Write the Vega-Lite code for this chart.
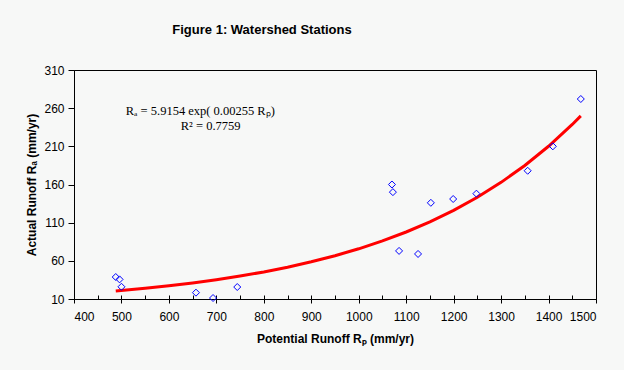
{
  "$schema": "https://vega.github.io/schema/vega-lite/v6.json",
  "width": 522,
  "height": 229,
  "autosize": "none",
  "padding": {"left": 74, "top": 70, "right": 28, "bottom": 71},
  "background": "#f7f8f7",
  "title": {
    "text": "Figure 1: Watershed Stations",
    "font": "Liberation Sans",
    "fontSize": 13,
    "fontWeight": "bold",
    "color": "#000000",
    "anchor": "middle",
    "dx": -73,
    "offset": 17,
    "baseline": "alphabetic"
  },
  "datasets": {
    "stations": [
      {"Rp": 488, "Ra": 38.8},
      {"Rp": 496, "Ra": 35.7},
      {"Rp": 500, "Ra": 26},
      {"Rp": 657, "Ra": 18.3},
      {"Rp": 693, "Ra": 11.3},
      {"Rp": 744, "Ra": 25.7},
      {"Rp": 1070, "Ra": 160},
      {"Rp": 1072, "Ra": 150},
      {"Rp": 1085, "Ra": 73},
      {"Rp": 1125, "Ra": 69},
      {"Rp": 1152, "Ra": 136},
      {"Rp": 1199, "Ra": 141},
      {"Rp": 1248, "Ra": 148},
      {"Rp": 1356, "Ra": 178},
      {"Rp": 1409, "Ra": 210},
      {"Rp": 1468, "Ra": 272}
    ],
    "fit": [
      {"Rp": 488, "Ra": 20.53},
      {"Rp": 550, "Ra": 24.05},
      {"Rp": 600, "Ra": 27.32},
      {"Rp": 650, "Ra": 31.03},
      {"Rp": 700, "Ra": 35.25},
      {"Rp": 750, "Ra": 40.05},
      {"Rp": 800, "Ra": 45.49},
      {"Rp": 850, "Ra": 51.68},
      {"Rp": 900, "Ra": 58.71},
      {"Rp": 950, "Ra": 66.69},
      {"Rp": 1000, "Ra": 75.76},
      {"Rp": 1050, "Ra": 86.06},
      {"Rp": 1100, "Ra": 97.77},
      {"Rp": 1150, "Ra": 111.06},
      {"Rp": 1200, "Ra": 126.16},
      {"Rp": 1250, "Ra": 143.32},
      {"Rp": 1300, "Ra": 162.81},
      {"Rp": 1350, "Ra": 184.94},
      {"Rp": 1400, "Ra": 210.10},
      {"Rp": 1450, "Ra": 238.66},
      {"Rp": 1468, "Ra": 249.87}
    ],
    "notes": [
      {"Rp": 509, "Ra": 251.5, "label": "Rₐ = 5.9154 exp( 0.00255 Rₚ)"},
      {"Rp": 625, "Ra": 232, "label": "R² = 0.7759"}
    ]
  },
  "layer": [
    {
      "data": {"name": "fit"},
      "mark": {"type": "line", "color": "#ff0000", "strokeWidth": 3, "interpolate": "linear"},
      "encoding": {
        "x": {
          "field": "Rp", "type": "quantitative",
          "scale": {"domain": [400, 1500], "nice": false, "zero": false},
          "axis": {
            "orient": "bottom",
            "values": [400,450,500,550,600,650,700,750,800,850,900,950,1000,1050,1100,1150,1200,1250,1300,1350,1400,1450,1500],
            "labels": false, "domain": false, "grid": false, "title": null,
            "ticks": true, "tickSize": -4, "tickColor": "#000000", "tickWidth": 1
          }
        },
        "y": {
          "field": "Ra", "type": "quantitative",
          "scale": {"domain": [10, 310], "nice": false, "zero": false},
          "axis": null
        }
      }
    },
    {
      "data": {"name": "stations"},
      "mark": {"type": "point", "shape": "diamond", "size": 49, "filled": false, "stroke": "#0000ff", "strokeWidth": 1, "opacity": 1},
      "encoding": {
        "x": {
          "field": "Rp", "type": "quantitative",
          "scale": {"domain": [400, 1500], "nice": false, "zero": false},
          "axis": {
            "orient": "bottom",
            "values": [400,500,600,700,800,900,1000,1100,1200,1300,1400,1500],
            "format": "d",
            "grid": false,
            "domainColor": "#000000", "domainWidth": 1,
            "tickColor": "#000000", "tickSize": 4, "tickWidth": 1,
            "labelFont": "Liberation Sans", "labelFontSize": 12, "labelColor": "#000000",
            "labelPadding": 8,
            "title": "Potential Runoff Rₚ (mm/yr)",
            "titleFont": "Liberation Sans", "titleFontSize": 12, "titleFontWeight": "bold", "titleColor": "#000000",
            "titlePadding": 11
          }
        },
        "y": {
          "field": "Ra", "type": "quantitative",
          "scale": {"domain": [10, 310], "nice": false, "zero": false},
          "axis": {
            "orient": "left",
            "values": [10, 60, 110, 160, 210, 260, 310],
            "format": "d",
            "grid": false,
            "domainColor": "#000000", "domainWidth": 1,
            "tickColor": "#000000", "tickSize": 6, "tickWidth": 1,
            "labelFont": "Liberation Sans", "labelFontSize": 12, "labelColor": "#000000",
            "labelPadding": 4,
            "title": "Actual Runoff Rₐ (mm/yr)",
            "titleFont": "Liberation Sans", "titleFontSize": 12, "titleFontWeight": "bold", "titleColor": "#000000",
            "titlePadding": 5
          }
        }
      }
    },
    {
      "data": {"name": "notes"},
      "mark": {"type": "text", "font": "Liberation Serif", "fontSize": 12.5, "align": "left", "baseline": "alphabetic", "color": "#000000"},
      "encoding": {
        "x": {"field": "Rp", "type": "quantitative", "scale": {"domain": [400, 1500], "nice": false, "zero": false}, "axis": null},
        "y": {"field": "Ra", "type": "quantitative", "scale": {"domain": [10, 310], "nice": false, "zero": false}, "axis": null},
        "text": {"field": "label", "type": "nominal"}
      }
    }
  ],
  "resolve": {"axis": {"x": "independent", "y": "independent"}},
  "config": {
    "view": {"stroke": "#000000", "strokeWidth": 1, "fill": null}
  }
}
